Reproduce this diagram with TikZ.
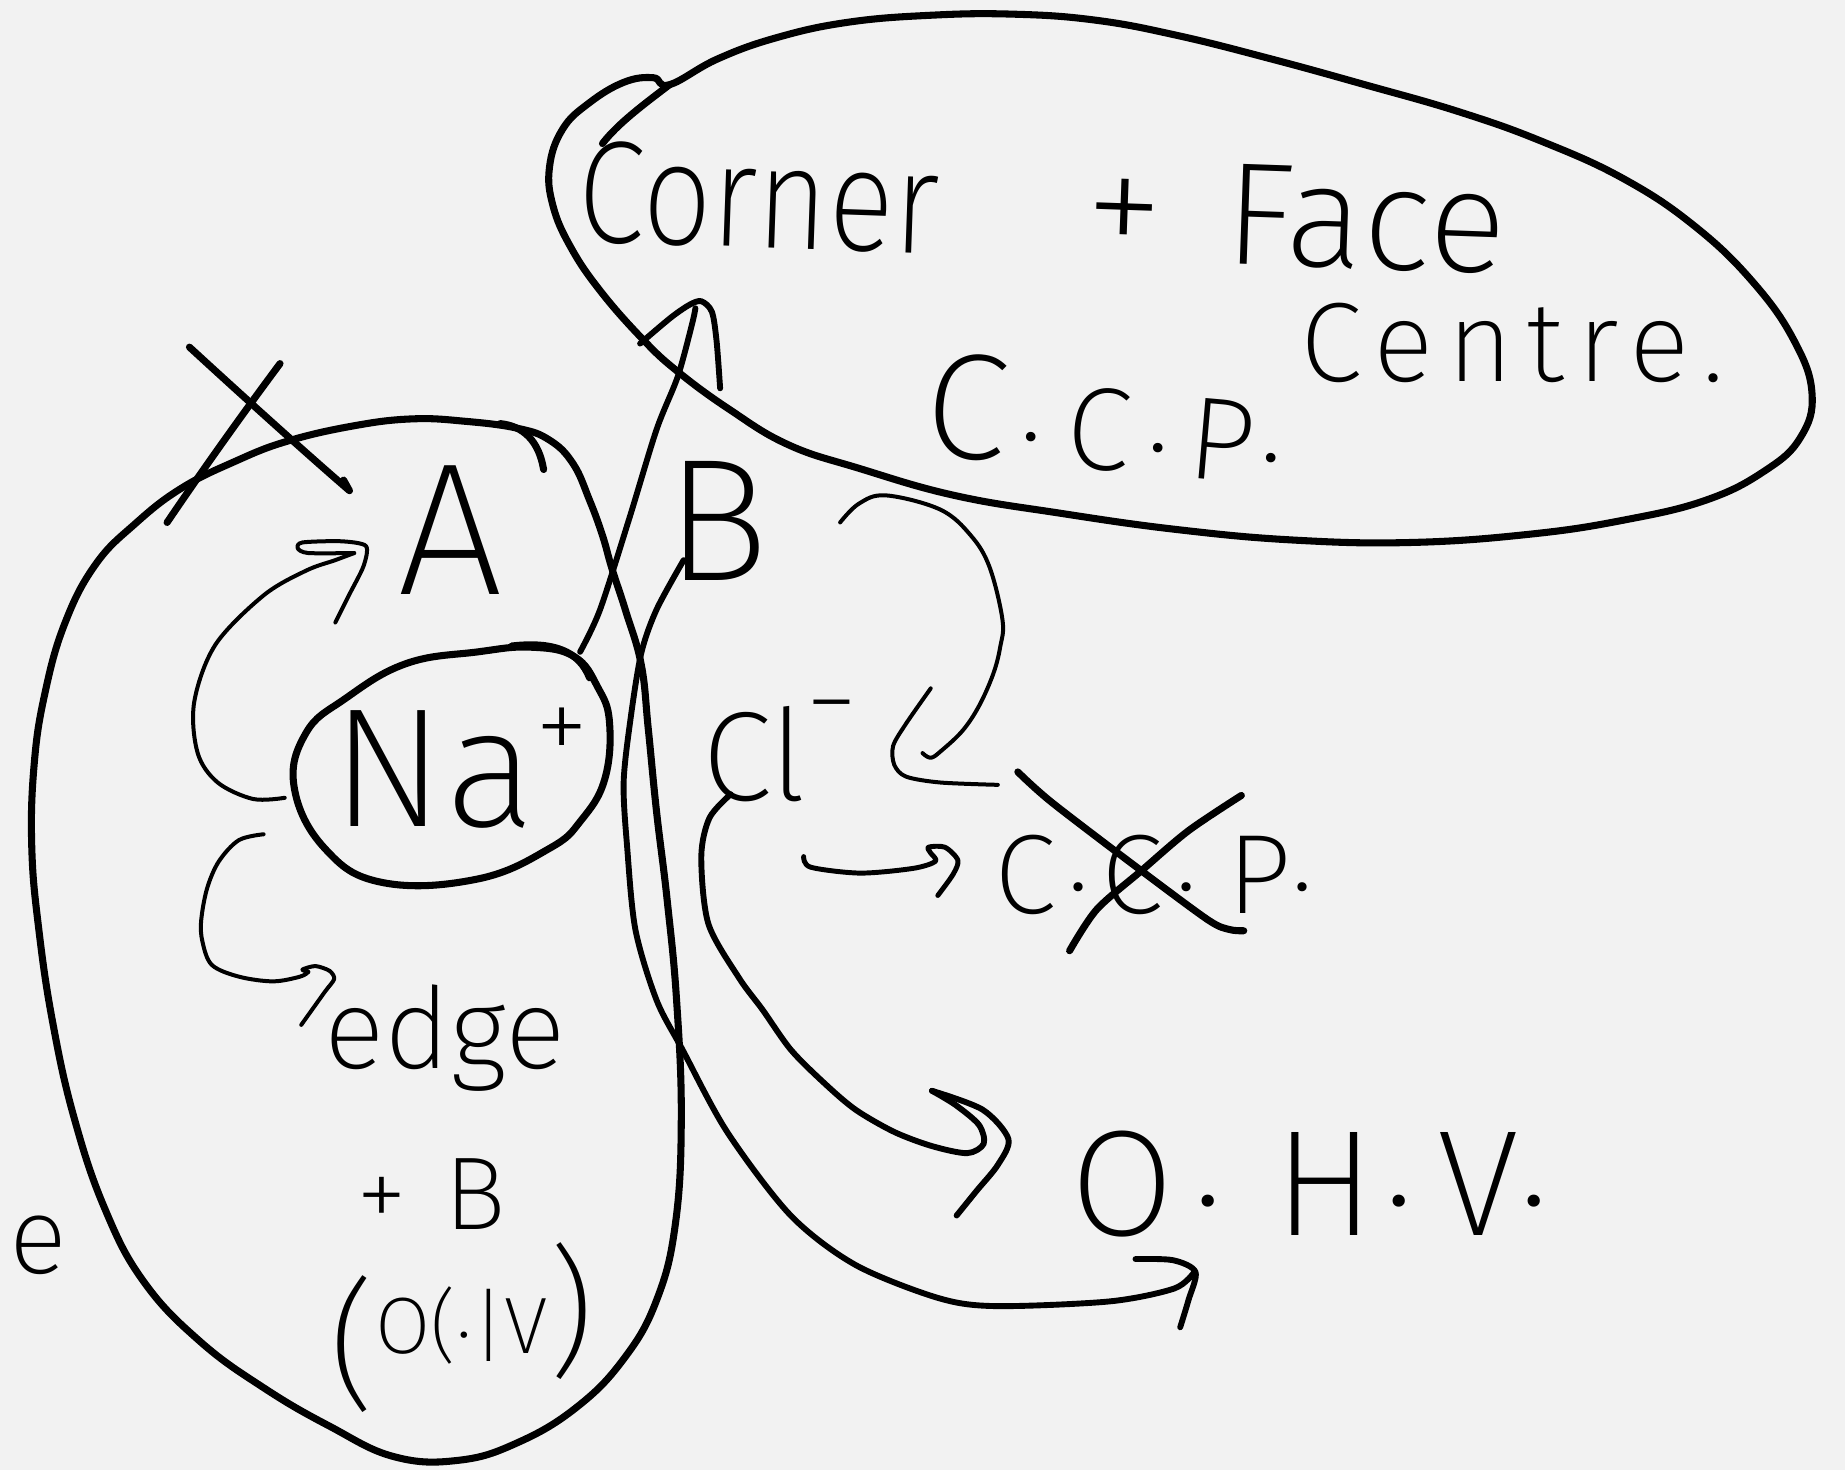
\documentclass[tikz,border=0pt]{standalone}
\usepackage{fontspec}
\IfFontExistsTF{Fira Sans ExtraLight}
  {\newfontfamily\hand{Fira Sans ExtraLight}}
  {\newfontfamily\hand{Fira Sans}}
\newcommand\fsz[1]{\fontsize{#1}{#1}\selectfont}
\newcommand\hwdot{\raisebox{0.2em}{.}}
\definecolor{paper}{HTML}{F2F2F2}
\definecolor{ink}{HTML}{000000}

\begin{document}
\begin{tikzpicture}[x=0.5pt,y=-0.5pt,
  thickln/.style={line width=3pt,line cap=round,line join=round,draw=ink},
  midln/.style={line width=2.5pt,line cap=round,line join=round,draw=ink},
  thinln/.style={line width=1.7pt,line cap=round,line join=round,draw=ink},
  hw/.style={inner sep=0pt,outer sep=0pt,anchor=base west,text=ink}]

% page
\fill[paper] (0,0) rectangle (1568,1249);
\useasboundingbox (0,0) rectangle (1568,1249);

% ---------------- texts ----------------
\node[hw,font=\hand,rotate=-2] (corner) at (490,205)
  {{\fsz{62}\scalebox{0.84}[1]{Corner}}\hspace{62pt}{\fsz{68}+}\hspace{26pt}{\fsz{62}Face}};
\node[hw,font=\hand\fsz{48}\addfontfeatures{LetterSpace=12}] (centre) at (1105,324) {Centre.};
\node[hw,font=\hand,rotate=-5] (ccp) at (783,386)
  {{\fsz{64}C}\hspace{6pt}{\fsz{50}\hwdot\hspace{10pt}C\hspace{7pt}\hwdot\hspace{8pt}P\hspace{2pt}\hwdot}};

\node[hw,font=\hand\fsz{80}] (A) at (338,505) {A};
\node[hw,font=\hand\fsz{74}] (B) at (566,493) {B};

\node[hw,font=\hand] (na) at (282,702) {{\fsz{72}Na}\raisebox{27pt}{\fsz{46}+}};
\node[hw,font=\hand] (cl) at (597,680) {{\fsz{54}Cl}\raisebox{27pt}{\fsz{44}−}};

\node[hw,font=\hand\fsz{48}] (ccpx) at (845,776)
  {C\hspace{5pt}\hwdot\hspace{5pt}C\hspace{5pt}\hwdot\hspace{13pt}P\hwdot};
\node[hw,font=\hand\fsz{64}] (ohv) at (910,1050)
  {O\hspace{8pt}\hwdot\hspace{22pt}H\hspace{4pt}\hwdot\hspace{10pt}V\hwdot};

\node[hw,font=\hand\fsz{48}] (edge) at (276,908) {edge};
\node[hw,font=\hand\fsz{44}] (plusb) at (303,1045) {+\hspace{16pt}B};
\node[hw,font=\hand] (ohvsmall) at (280,1150)
  {\raisebox{-17pt}{\fsz{60}(}{\fsz{34}O(\hwdot|V}\raisebox{-3pt}{\fsz{60})}};
\node[hw,font=\hand\fsz{46}] (eleft) at (8,1082) {e};

% ---------------- end points of the connectors ----------------
\coordinate (naTop)  at (493,554);
\coordinate (naLeft) at (242,678);
\coordinate (naLow)  at (224,709);
\coordinate (bBot)   at (581,476);
\coordinate (clBot)  at (621,675);
\coordinate (clRight) at (683,728);
\coordinate (bcStart) at (714,444);

% ---------------- outlines ----------------
% cloud round "Corner + Face Centre"
\draw[thickln] plot[smooth cycle,tension=0.7] coordinates {
  (569,72) (610,50) (660,32) (720,19) (790,13) (860,12) (930,17)
  (1000,30) (1080,50) (1160,72) (1240,95) (1310,120) (1380,152)
  (1440,192) (1490,240) (1525,290) (1540,335) (1530,372) (1500,400)
  (1450,425) (1380,442) (1300,454) (1200,461) (1100,459) (1000,450)
  (900,436) (811,421) (730,398) (670,378) (620,348) (575,315)
  (545,287) (510,247) (485,210) (470,175) (467,142) (478,110)
  (500,88) (530,70) (555,66)};
\draw[thickln] (569,72) .. controls (548,88) and (525,105) .. (512,122);

% long loop round A, Na+ and edge
\draw[thickln] plot[smooth cycle,tension=0.7] coordinates {
  (440,364) (467,374) (487,394) (501,425) (512,455) (520,483) (532,520)
  (545,565) (551,620) (558,690) (567,765) (575,850) (579,950) (574,1040)
  (558,1105) (530,1155) (490,1196) (440,1226) (390,1241) (335,1238)
  (280,1212) (225,1180) (170,1140) (122,1089) (89,1027) (63,950)
  (45,870) (33,790) (27,720) (29,650) (38,590) (55,530) (81,480)
  (115,445) (154,415) (200,392) (244,375) (300,362) (350,356) (395,358)};
\draw[thickln] (425,360) .. controls (445,362) and (458,375) .. (462,399);

% ring round Na+
\draw[thickln] plot[smooth cycle,tension=0.7] coordinates {
  (406,554) (451,550) (488,558) (508,584) (518,614) (514,662) (494,697)
  (467,721) (406,747) (325,750) (276,721) (250,669) (260,623) (293,594)
  (345,564)};
\draw[thickln] (435,549) .. controls (470,545) and (492,553) .. (501,576);

% ---------------- connectors ----------------
% Na+ up to the corner/face cloud
\draw[midln] plot[smooth,tension=0.5] coordinates {
  (naTop) (510,518) (535,440) (558,365) (576,320) (588,276) (591,262)};
\draw[midln] plot[smooth,tension=0.5] coordinates {
  (544,292) (570,270) (586,259) (596,256) (605,265) (609,290) (612,330)};

% B down to the lower arrow
\draw[midln] plot[smooth,tension=0.5] coordinates {
  (bBot) (558,518) (545,555) (536,610) (530,665) (533,720) (540,790)
  (558,850) (580,892) (618,962) (672,1033) (727,1075) (797,1103)
  (846,1110) (943,1106) (998,1095) (1015,1081)};
\draw[midln] plot[smooth,tension=0.5] coordinates {
  (965,1070) (997,1071) (1016,1081) (1010,1105) (1003,1128)};

% Cl- down to O.H.V.
\draw[midln] plot[smooth,tension=0.5] coordinates {
  (clBot) (603,695) (596,728) (602,785) (628,831) (648,858) (672,892)
  (700,920) (727,943) (760,962) (792,974) (822,980) (836,972) (832,956)
  (812,939) (792,927)};
\draw[midln] plot[smooth,tension=0.5] coordinates {
  (792,927) (835,943) (857,968) (848,990) (830,1012) (813,1033)};

% Na+ round to A
\draw[thinln] plot[smooth,tension=0.55] coordinates {
  (naLeft) (215,679) (185,665) (168,640) (165,597) (183,548) (224,506)
  (260,485) (285,476) (301,470)};
\draw[thinln] plot[smooth,tension=0.45] coordinates {
  (301,470) (262,470) (253,466) (257,461) (290,460) (311,464) (309,481)
  (297,505) (285,529)};

% Na+ round to edge
\draw[thinln] plot[smooth,tension=0.55] coordinates {
  (naLow) (203,714) (186,732) (176,755) (171,782) (172,800) (180,820)
  (203,830) (232,834) (255,830) (262,826)};
\draw[thinln] plot[smooth,tension=0.45] coordinates {
  (262,826) (257,824) (268,821) (280,825) (284,832) (276,843) (256,871)};

% B over to Cl-
\draw[thinln] plot[smooth,tension=0.6] coordinates {
  (bcStart) (730,428) (753,421) (799,433) (825,455) (841,482) (852,527)
  (850,550) (844,573) (832,600) (818,621) (800,638) (791,644) (784,640)};
\draw[thinln] plot[smooth,tension=0.5] coordinates {
  (791,585) (770,615) (759,634) (760,650) (770,660) (799,665) (848,667)};

% Cl- to the crossed C.C.P.
\draw[line width=2.1pt,line cap=round,line join=round,draw=ink]
  plot[smooth,tension=0.5] coordinates {
  (clRight) (689,737) (731,742) (776,738) (795,732) (791,725) (789,720)
  (803,720) (814,731) (810,743) (797,761)};

% ---------------- crossings-out ----------------
\draw[thickln] (161,295) .. controls (210,340) and (260,385) .. (297,417) -- (292,408);
\draw[thickln] (238,309) .. controls (200,360) and (165,410) .. (142,444);

\draw[thickln] plot[smooth,tension=0.5] coordinates {
  (865,656) (894,682) (970,740) (1027,782) (1045,790) (1057,791)};
\draw[thickln] plot[smooth,tension=0.5] coordinates {
  (1055,676) (1010,706) (970,740) (932,773) (909,808)};

\end{tikzpicture}
\end{document}
